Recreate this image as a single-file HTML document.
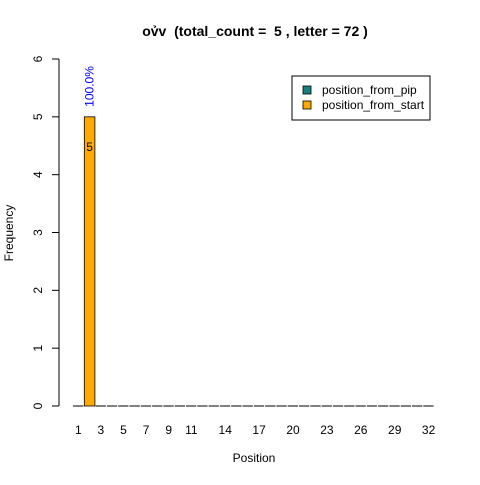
<!DOCTYPE html>
<html><head><meta charset="utf-8"><style>
body{margin:0;background:#fff}
text{font-family:"Liberation Sans",Arial,sans-serif}
</style></head><body>
<svg width="480" height="480" viewBox="0 0 480 480">
<rect width="480" height="480" fill="#fff"/>
<text x="255" y="36" text-anchor="middle" font-size="14" font-weight="bold" xml:space="preserve" style="white-space:pre">ov̉v  (total_count =  5 , letter = 72 )</text>
<g id="yaxis"></g>
<g id="bars"></g>
<g id="xaxis"></g>
<text x="254" y="462" text-anchor="middle" font-size="12">Position</text>
<text transform="translate(13,233) rotate(-90)" text-anchor="middle" font-size="12">Frequency</text>
<g>
<rect x="292" y="76" width="138" height="44" fill="#fff" stroke="#000"/>
<rect x="303" y="86" width="8" height="8" fill="#1a7f7f" stroke="#000" stroke-width="0.8"/>
<text x="322" y="94" font-size="12">position_from_pip</text>
<rect x="303" y="101" width="8" height="8" fill="#ffaa00" stroke="#000" stroke-width="0.8"/>
<text x="322" y="109" font-size="12">position_from_start</text>
</g>
</svg>
<script>
const positions = Array.from({length:32},(_,i)=>i+1);
const startValues = [0,5,0,0,0,0,0,0,0,0,0,0,0,0,0,0,0,0,0,0,0,0,0,0,0,0,0,0,0,0,0,0];
const pipValues = [0,0,0,0,0,0,0,0,0,0,0,0,0,0,0,0,0,0,0,0,0,0,0,0,0,0,0,0,0,0,0,0];
const yTicks = [0,1,2,3,4,5,6];
const xTickLabels = [1,3,5,7,9,11,14,17,20,23,26,29,32];
const totalCount = 5;
const NS="http://www.w3.org/2000/svg";
const y0=406, yPer=(406-59)/6;
const ys=v=>y0-v*yPer;
const xc=p=>78.3+(p-1)*11.3;
function mk(t,a,parent){const e=document.createElementNS(NS,t);for(const k in a)e.setAttribute(k,a[k]);parent.appendChild(e);return e;}
const ya=document.getElementById('yaxis'),bg=document.getElementById('bars'),xa=document.getElementById('xaxis');
mk('line',{x1:59,x2:59,y1:ys(yTicks[0]),y2:ys(yTicks[yTicks.length-1]),stroke:'#000'},ya);
yTicks.forEach(t=>{
 const l=mk('line',{x1:52,x2:59,y1:ys(t),y2:ys(t),stroke:'#000'},ya);
 
 
 const tx=mk('text',{transform:`translate(42,${ys(t)}) rotate(-90)`,'text-anchor':'middle','font-size':'12'},ya);
 tx.textContent=t;
 
 
});
positions.forEach((p,i)=>{
 const v=startValues[i]+pipValues[i];
 const x=xc(p)-5.3;
 if(v>0){
  const r=mk('rect',{x:x,y:ys(startValues[i]),width:10.6,height:ys(0)-ys(startValues[i]),fill:'#ffaa00',stroke:'#000','stroke-width':0.8},bg);
  
  
  const c=mk('text',{x:xc(p),y:ys(startValues[i])+34,'text-anchor':'middle','font-size':'12'},bg);
  c.textContent=startValues[i];
  
  
  const pc=mk('text',{transform:`translate(${xc(p)+4},${ys(startValues[i])-10}) rotate(-90)`,'font-size':'12',fill:'#0000ff'},bg);
  pc.textContent=(startValues[i]/totalCount*100).toFixed(1)+'%';
  
  
 } else {
  const d=mk('line',{x1:x,x2:x+10.3,y1:ys(0),y2:ys(0),stroke:'#000'},bg);
  
  
 }
});
xTickLabels.forEach(p=>{
 const t=mk('text',{x:xc(p),y:434,'text-anchor':'middle','font-size':'12'},xa);
 t.textContent=p;
 
 
});
</script>
</body></html>
